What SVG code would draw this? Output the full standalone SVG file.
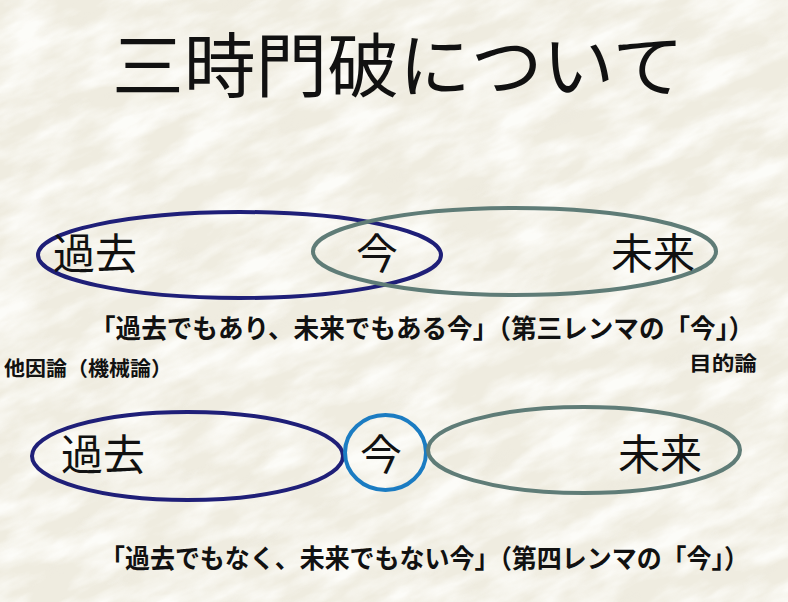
<svg xmlns="http://www.w3.org/2000/svg" width="788" height="602" viewBox="0 0 788 602">
  <defs>
    <filter id="paperLight" x="0" y="0" width="1" height="1">
      <feTurbulence type="fractalNoise" baseFrequency="0.015 0.045" numOctaves="4" seed="3"/>
      <feColorMatrix type="matrix" values="0 0 0 0 1  0 0 0 0 1  0 0 0 0 0.98  2.4 0 0 0 -0.85"/>
    </filter>
    <filter id="paperDark" x="0" y="0" width="1" height="1">
      <feTurbulence type="fractalNoise" baseFrequency="0.02 0.06" numOctaves="4" seed="11"/>
      <feColorMatrix type="matrix" values="0 0 0 0 0.80  0 0 0 0 0.78  0 0 0 0 0.71  0 -2.6 0 0 1.0"/>
    </filter>
    <style>
      .jp { font-family: "Noto Sans CJK JP", "Noto Sans CJK SC", sans-serif; fill: #111; }
      .title { font-size: 70px; font-weight: 400; }
      .big { font-size: 42px; font-weight: 400; }
      .cap { font-size: 26px; font-weight: 700; }
      .side { font-size: 20px; font-weight: 700; }
      .past { fill: none; stroke: #1f1f78; stroke-width: 4; }
      .future { fill: none; stroke: #5f7c77; stroke-width: 4; }
      .now { fill: none; stroke: #1b7cc2; stroke-width: 4; }
    </style>
  </defs>

  <g id="background">
    <rect x="0" y="0" width="788" height="602" fill="#efece0"/>
    <g transform="rotate(-25 394 301)">
      <rect x="-250" y="-300" width="1290" height="1200" filter="url(#paperDark)" opacity="0.18"/>
      <rect x="-250" y="-300" width="1290" height="1200" filter="url(#paperLight)" opacity="0.85"/>
    </g>
  </g>

  <g id="title">
    <text class="jp title" x="112" y="92" textLength="572" lengthAdjust="spacingAndGlyphs">三時門破について</text>
  </g>

  <g id="top-past">
    <ellipse class="past" cx="239.5" cy="255" rx="201.5" ry="43"/>
    <text class="jp big" x="53" y="269">過去</text>
  </g>
  <g id="top-future">
    <ellipse class="future" cx="514.5" cy="251.5" rx="201.5" ry="43.5"/>
    <text class="jp big" x="611" y="269">未来</text>
  </g>
  <g id="top-now">
    <text class="jp big" x="377" y="269" text-anchor="middle">今</text>
  </g>

  <g id="caption-third">
    <text class="jp cap" x="90" y="338" textLength="664" lengthAdjust="spacingAndGlyphs">「過去でもあり、未来でもある今」（第三レンマの「今」）</text>
  </g>
  <g id="label-left">
    <text class="jp side" x="4" y="376" textLength="168" lengthAdjust="spacingAndGlyphs">他因論（機械論）</text>
  </g>
  <g id="label-right">
    <text class="jp side" x="689" y="371" textLength="68" lengthAdjust="spacingAndGlyphs">目的論</text>
  </g>

  <g id="bottom-past">
    <ellipse class="past" cx="187.5" cy="456" rx="155.5" ry="44"/>
    <text class="jp big" x="61" y="470">過去</text>
  </g>
  <g id="bottom-now">
    <ellipse class="now" cx="385.5" cy="452.5" rx="40.5" ry="37.5"/>
    <text class="jp big" x="381" y="470" text-anchor="middle">今</text>
  </g>
  <g id="bottom-future">
    <ellipse class="future" cx="584" cy="450" rx="156" ry="43"/>
    <text class="jp big" x="618" y="470">未来</text>
  </g>

  <g id="caption-fourth">
    <text class="jp cap" x="100" y="568" textLength="649" lengthAdjust="spacingAndGlyphs">「過去でもなく、未来でもない今」（第四レンマの「今」）</text>
  </g>

  <g id="connectors"/>
</svg>
